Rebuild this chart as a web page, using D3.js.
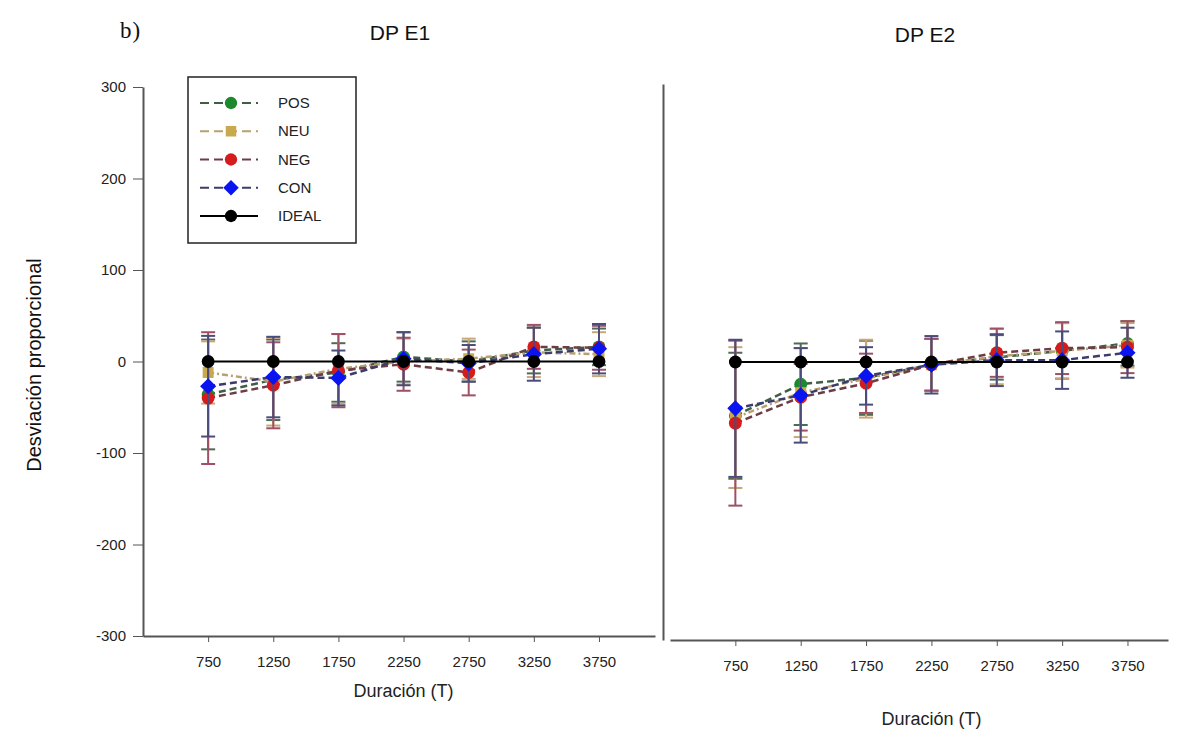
<!DOCTYPE html>
<html>
<head>
<meta charset="utf-8">
<script src="https://cdn.jsdelivr.net/npm/d3@7"></script>
<style>
  body { margin: 0; background: #fff; }
  svg { font-family: Arial, "Liberation Sans", sans-serif; }
  .axis path, .axis line { stroke: #555; }
  .axis text { fill: #222; font-size: 15px; }
</style>
</head>
<body>
<svg id="chart" width="1181" height="731"></svg>
<script>
'use strict'

// durations (x categories)
const durations = [750, 1250, 1750, 2250, 2750, 3250, 3750]
const yTicks = [-300, -200, -100, 0, 100, 200, 300]

// E1 means and error half-widths
const e1POS = [-36, -20, -12, 5, 0, 12, 16]
const e1POSerr = [60, 44, 32, 27, 22, 25, 20]
const e1NEU = [-12, -22, -8, 0, 3, 10, 8]
const e1NEUerr = [34, 48, 38, 25, 22, 27, 24]
const e1NEG = [-40, -26, -10, -3, -12, 16, 15]
const e1NEGerr = [72, 47, 40, 29, 25, 24, 24]
const e1CON = [-27, -17, -18, 3, -2, 8, 14]
const e1CONerr = [55, 44, 30, 29, 20, 29, 27]
const e1IDEAL = [0, 0, 0, 0, 0, 0, 0]

// E2 means and error half-widths
const e2POS = [-58, -24, -17, -3, 5, 12, 20]
const e2POSerr = [68, 44, 40, 28, 24, 30, 24]
const e2NEU = [-60, -33, -18, -3, 6, 12, 18]
const e2NEUerr = [76, 48, 42, 28, 30, 30, 24]
const e2NEG = [-66, -38, -23, -3, 10, 15, 16]
const e2NEGerr = [89, 36, 32, 28, 26, 28, 28]
const e2CON = [-50, -36, -15, -3, 2, 2, 10]
const e2CONerr = [74, 51, 31, 31, 28, 31, 27]
const e2IDEAL = [0, 0, 0, 0, 0, 0, 0]

const seriesNames = ['POS', 'NEU', 'NEG', 'CON', 'IDEAL']
const diamond = {draw (ctx, size) { // square turned 45 degrees
  const r = Math.sqrt(size / 2)
  ctx.moveTo(0, -r); ctx.lineTo(r, 0); ctx.lineTo(0, r); ctx.lineTo(-r, 0); ctx.closePath()
}}
const styles = {
  POS:   {fill: '#1c8a2c', line: '#3f5e45', err: '#4f6a55', dash: '7,4', shape: d3.symbolCircle},
  NEU:   {fill: '#c9a94e', line: '#b8a070', err: '#c8a878', dash: '6,3,2,3', shape: d3.symbolSquare},
  NEG:   {fill: '#d41c1c', line: '#6e3c44', err: '#a05064', dash: '7,4', shape: d3.symbolCircle},
  CON:   {fill: '#0a14f0', line: '#3c3c6c', err: '#4c4c7c', dash: '7,4', shape: diamond},
  IDEAL: {fill: '#000', line: '#000', err: '#000', dash: null, shape: d3.symbolCircle}
}

const panels = [
  {title: 'DP E1', data: {POS: [e1POS, e1POSerr], NEU: [e1NEU, e1NEUerr], NEG: [e1NEG, e1NEGerr], CON: [e1CON, e1CONerr], IDEAL: [e1IDEAL, null]},
   xDomain: [250, 4180], xRange: [143, 655], yRange: [636, 87], titleX: 400, titleY: 40, labelY: 697, showY: true},
  {title: 'DP E2', data: {POS: [e2POS, e2POSerr], NEU: [e2NEU, e2NEUerr], NEG: [e2NEG, e2NEGerr], CON: [e2CON, e2CONerr], IDEAL: [e2IDEAL, null]},
   xDomain: [250, 4060], xRange: [670, 1168], yRange: [640, 84], titleX: 925, titleY: 42, labelY: 725, showY: false}
]

const svg = d3.select('#chart')

svg.append('text').text('b)')
  .attr('x', 120).attr('y', 38)
  .style('font-family', '"Liberation Serif", "DejaVu Serif", serif')
  .style('font-size', '23px').style('letter-spacing', '1px').attr('fill', '#111')

// y axis label
svg.append('text').text('Desviación proporcional')
  .attr('transform', 'translate(41,365) rotate(-90)')
  .attr('text-anchor', 'middle')
  .style('font-size', '20px').attr('fill', '#111')

panels.forEach(p => {
  const x = d3.scaleLinear().domain(p.xDomain).range(p.xRange)
  const y = d3.scaleLinear().domain([-300, 300]).range(p.yRange)
  const g = svg.append('g')

  // title
  g.append('text').text(p.title)
    .attr('x', p.titleX).attr('y', p.titleY)
    .attr('text-anchor', 'middle')
    .style('font-size', '21px').attr('fill', '#111')

  // x axis
  const xAxis = g.append('g').classed('axis', true)
    .attr('transform', 'translate(0,' + p.yRange[0] + ')')
    .call(d3.axisBottom(x).tickValues(durations).tickSize(6).tickSizeOuter(0).tickPadding(14).tickFormat(d => String(d)))
  xAxis.select('.domain').attr('stroke-width', 2)

  g.append('text').text('Duración (T)')
    .attr('x', (x(750) + x(3750)) / 2).attr('y', p.labelY)
    .attr('text-anchor', 'middle')
    .style('font-size', '18px').attr('fill', '#222')

  // y axis (ticks only on the first panel)
  const yAxis = g.append('g').classed('axis', true)
    .attr('transform', 'translate(' + (p.xRange[0] - (p.showY ? 0 : 7)) + ',0)')
  if (p.showY) {
    yAxis.call(d3.axisLeft(y).tickValues(yTicks).tickSize(10).tickSizeOuter(0).tickPadding(7).tickFormat(d => String(d)))
  } else {
    yAxis.call(d3.axisLeft(y).tickValues([]).tickSizeOuter(0))
  }
  yAxis.select('.domain').attr('stroke-width', 2)

  // series
  seriesNames.forEach(name => {
    const st = styles[name]
    const vals = p.data[name][0]
    const errs = p.data[name][1]
    const pts = durations.map((d, i) => ({d: d, v: vals[i], e: errs ? errs[i] : 0}))

    if (errs) {
      const eb = g.append('g')
      eb.selectAll('line.bar').data(pts).enter().append('line')
        .attr('x1', d => x(d.d)).attr('x2', d => x(d.d))
        .attr('y1', d => y(d.v - d.e)).attr('y2', d => y(d.v + d.e))
        .attr('stroke', st.err).attr('stroke-width', 2)
      ;[1, -1].forEach(s => {
        eb.selectAll(null).data(pts).enter().append('line')
          .attr('x1', d => x(d.d) - 7).attr('x2', d => x(d.d) + 7)
          .attr('y1', d => y(d.v + s * d.e)).attr('y2', d => y(d.v + s * d.e))
          .attr('stroke', st.err).attr('stroke-width', 2)
      })
    }

    const line = d3.line().x(d => x(d.d)).y(d => y(d.v))
    g.append('path').datum(pts)
      .attr('d', line)
      .attr('fill', 'none')
      .attr('stroke', st.line)
      .attr('stroke-width', name === 'IDEAL' ? 2 : 2.5)
      .attr('stroke-dasharray', st.dash)

    g.selectAll(null).data(pts).enter().append('path')
      .attr('d', d3.symbol().type(st.shape).size(name === 'NEU' ? 120 : 130))
      .attr('transform', d => 'translate(' + x(d.d) + ',' + y(d.v) + ')')
      .attr('fill', st.fill)
  })
})

// legend
const legend = svg.append('g')
legend.append('rect')
  .attr('x', 188).attr('y', 77).attr('width', 168).attr('height', 166)
  .attr('fill', '#fff').attr('stroke', '#222').attr('stroke-width', 1.5)
const legendY = d3.scalePoint().domain(seriesNames).range([103, 216])
seriesNames.forEach(name => {
  const st = styles[name]
  const ly = legendY(name)
  legend.append('line')
    .attr('x1', 200).attr('x2', 258).attr('y1', ly).attr('y2', ly)
    .attr('stroke', st.line).attr('stroke-width', 2)
    .attr('stroke-dasharray', st.dash ? '9,5' : null)
  legend.append('path')
    .attr('d', d3.symbol().type(st.shape).size(name === 'NEU' ? 110 : 120))
    .attr('transform', 'translate(231,' + ly + ')')
    .attr('fill', st.fill)
  legend.append('text').text(name)
    .attr('x', 278).attr('y', ly + 5)
    .style('font-size', '15px').attr('fill', '#222')
})
</script>
</body>
</html>
